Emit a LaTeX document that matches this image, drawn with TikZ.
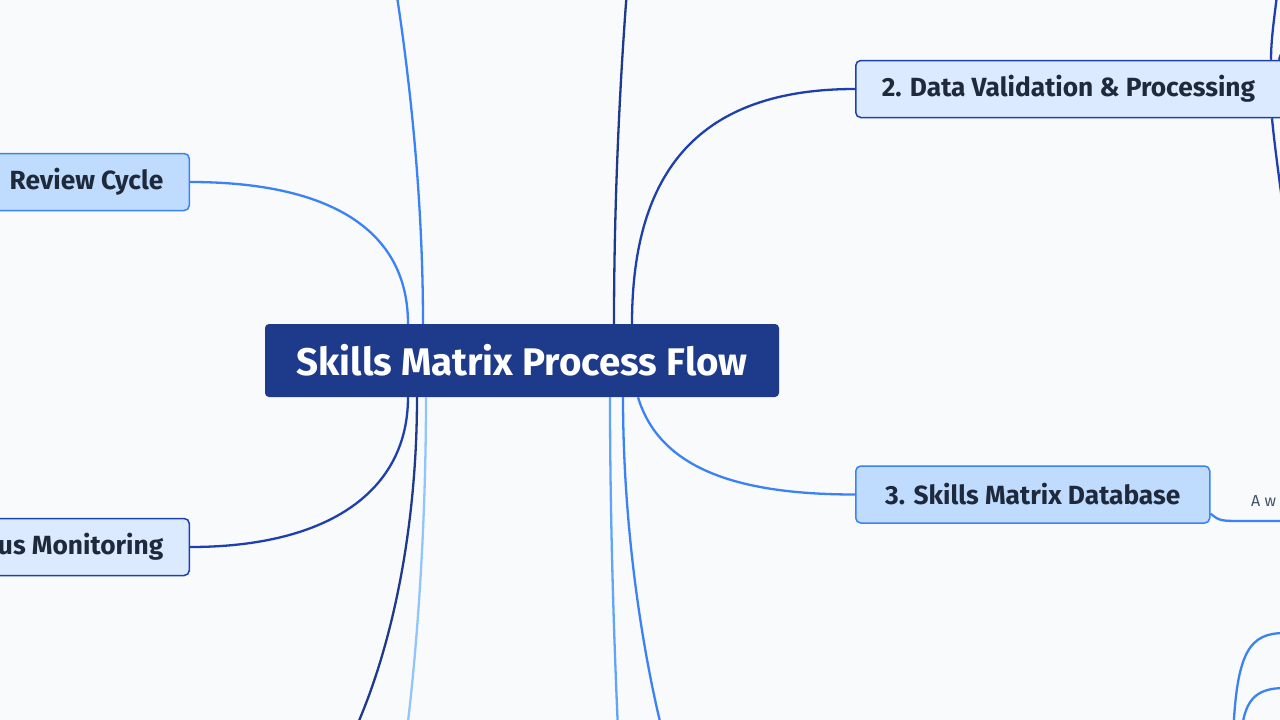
\documentclass[tikz,border=0pt]{standalone}
\usepackage{fontspec}
\setmainfont{Fira Sans}
\usetikzlibrary{positioning}
\definecolor{mbg}{HTML}{F8FAFC}
\definecolor{mnavy}{HTML}{1E3A8A}
\definecolor{mdark}{HTML}{1E40AF}
\definecolor{mblue}{HTML}{3B82F6}
\definecolor{msky}{HTML}{60A5FA}
\definecolor{mlight}{HTML}{93C5FD}
\definecolor{mpale}{HTML}{BFDBFE}
\definecolor{mpaler}{HTML}{DBEAFE}
\definecolor{mink}{HTML}{1E293B}
\definecolor{mgrey}{HTML}{475569}
\tikzstyle{root}=[rectangle, rounded corners=4pt, fill=mnavy, text=white, font=\fontsize{38.5}{44}\selectfont\bfseries, minimum width=514pt, minimum height=73pt, inner sep=0pt]
\tikzstyle{kid}=[rectangle, rounded corners=5pt, line width=1.5pt, text=mink, font=\fontsize{26.3}{30}\selectfont\bfseries, minimum height=57pt, inner xsep=26pt]
\tikzstyle{kidA}=[kid, draw=mblue, fill=mpale]
\tikzstyle{kidB}=[kid, draw=mdark, fill=mpaler]
\tikzstyle{note}=[text=mgrey, font=\fontsize{16}{19}\selectfont, inner sep=0pt]
\tikzstyle{l1}=[line width=2.3pt]
\begin{document}
\begin{tikzpicture}[x=1pt, y=-1pt]
    \fill[mbg] (0,0) rectangle (1280,720);
    \useasboundingbox (0,0) rectangle (1280,720);

    \node[root] at (522,360.5) (title) {Skills Matrix Process Flow};
    \node[kidA, anchor=east] at (190,182) (review) {Review Cycle};
    \node[kidB, anchor=east] at (190,547) (monitor) {us Monitoring};
    \node[kidB, anchor=west] at (855,89) (valid) {\makebox[395pt][l]{2. Data Validation \& Processing}};
    \node[kidA, anchor=west, minimum width=354pt] at (855,494.5) (db) {3. Skills Matrix Database};
    \node[note, anchor=west] at (1251,501) (dbnote) {A w};

    % branches leaving the picture
    \coordinate (up1) at (396,-10);
    \coordinate (up2) at (627,-10);
    \coordinate (dn1) at (355,730);
    \coordinate (dn2) at (407,730);
    \coordinate (dn3) at (618,730);
    \coordinate (dn4) at (662,730);
    \coordinate (vup) at (1277,-5);
    \coordinate (vup2) at (1290,40);
    \coordinate (vdn) at (1282,200);
    \coordinate (dbend) at (1285,521);
    \coordinate (br1) at (1233,740);
    \coordinate (br1e) at (1285,633);
    \coordinate (br2) at (1241,740);
    \coordinate (br2e) at (1285,688);

    \draw[l1, mblue] (review.east) .. controls (330,182) and (408,230) .. ([xshift=-114pt]title.north);
    \draw[l1, mdark] (monitor.east) .. controls (330,547) and (408,490) .. ([xshift=-114pt]title.south);
    \draw[l1, mdark] (valid.west) .. controls (700,89) and (632,170) .. ([xshift=110pt]title.north);
    \draw[l1, mblue] (db.west) .. controls (740,494.5) and (660,470) .. ([xshift=116pt]title.south);

    \draw[l1, mblue] ([xshift=-99pt]title.north) .. controls (423,200) and (410,80) .. (up1);
    \draw[l1, mnavy] ([xshift=92pt]title.north) .. controls (614,200) and (620,80) .. (up2);
    \draw[l1, mnavy] ([xshift=-105pt]title.south) .. controls (417,520) and (395,640) .. (dn1);
    \draw[l1, mlight] ([xshift=-96pt]title.south) .. controls (426,520) and (418,640) .. (dn2);
    \draw[l1, msky] ([xshift=88pt]title.south) .. controls (610,520) and (614,640) .. (dn3);
    \draw[l1, mblue] ([xshift=101pt]title.south) .. controls (623,520) and (640,640) .. (dn4);

    \draw[l1, mdark] ([xshift=416pt]valid.north west) .. controls (1271,40) and (1274,20) .. (vup);
    \draw[l1, mdark] ([xshift=424pt]valid.north west) .. controls (1280,55) and (1284,48) .. (vup2);
    \draw[l1, mdark] ([xshift=417pt]valid.south west) .. controls (1274,140) and (1278,170) .. (vdn);
    \draw[l1, mblue] ([yshift=10pt]db.south east) .. controls (1220,521) .. (1245,521) -- (dbend);
    \draw[l1, mblue] (br1) .. controls (1236,650) and (1250,633) .. (br1e);
    \draw[l1, mblue] (br2) .. controls (1243,700) and (1255,688) .. (br2e);
\end{tikzpicture}
\end{document}
